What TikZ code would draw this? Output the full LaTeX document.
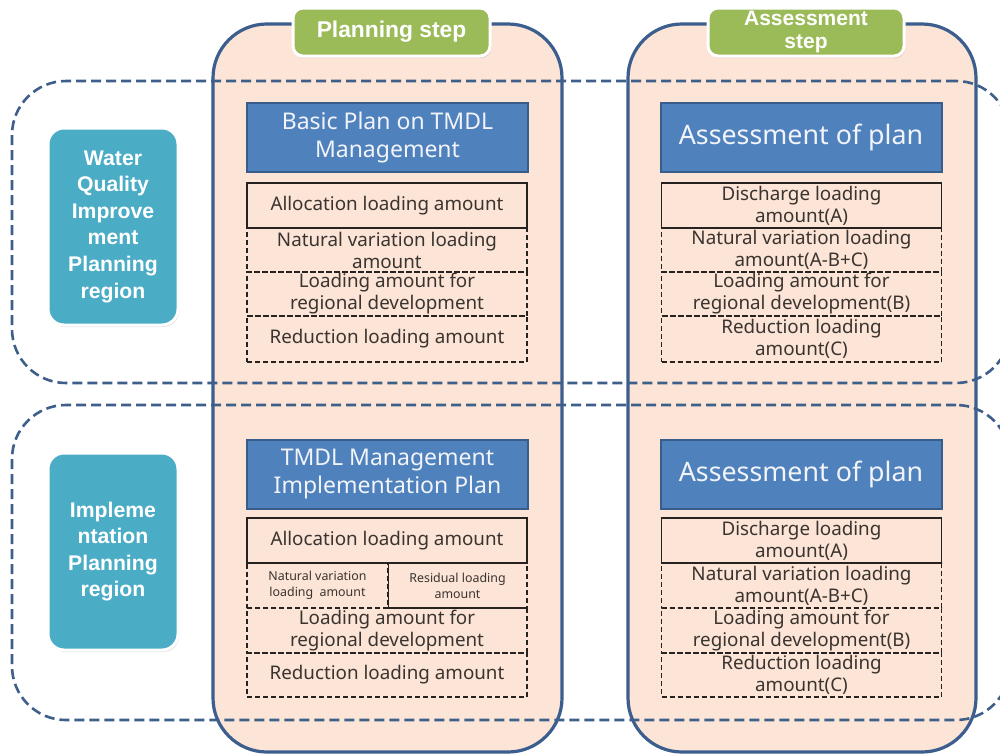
\documentclass[tikz,border=0pt]{standalone}
\usepackage{fontspec}
\setmainfont{Noto Sans}
\newfontfamily\lblfont{Liberation Sans}
\usetikzlibrary{shadows}
\definecolor{peach}{HTML}{FCE4D6}
\definecolor{colblue}{HTML}{3B5E8E}
\definecolor{dashblue}{HTML}{3E5F8A}
\definecolor{stepgreen}{HTML}{9BBB59}
\definecolor{teal}{HTML}{4BACC6}
\definecolor{hdrblue}{HTML}{4F81BD}
\definecolor{hdrborder}{HTML}{385D8A}
\definecolor{cellline}{HTML}{262220}
\definecolor{textcol}{HTML}{3A3430}
\definecolor{hdrtext}{HTML}{F2F4FA}
\begin{document}
\begin{tikzpicture}[x=0.5pt,y=-0.5pt,
  colbox/.style={draw=colblue, line width=1.6pt, fill=peach, rounded corners=27pt, inner sep=0pt},
  region/.style={draw=dashblue, line width=1.3pt, dash pattern=on 5pt off 2.5pt, rounded corners=27pt, inner sep=0pt},
  steplabel/.style={fill=stepgreen, draw=white, line width=1.5pt, rounded corners=5pt,
    drop shadow={opacity=0.25, shadow xshift=0.6pt, shadow yshift=-1pt},
    text=white, align=center, inner sep=0pt},
  regionlabel/.style={fill=teal, draw=white, line width=1.5pt, rounded corners=8pt,
    drop shadow={opacity=0.25, shadow xshift=0.6pt, shadow yshift=-1pt},
    text=white, font=\lblfont\bfseries\fontsize{10.6}{13.3}\selectfont, align=center, inner sep=0pt,
    minimum width=65pt, minimum height=98.5pt},
  header/.style={fill=hdrblue, draw=hdrborder, line width=1pt, text=hdrtext, align=center, inner sep=0pt,
    minimum width=140.5pt, minimum height=34.5pt},
  cellS/.style={draw=cellline, line width=0.6pt, inner sep=0pt, align=center, text=textcol,
    font=\fontsize{9.4}{11}\selectfont, minimum width=140pt},
  cellD/.style={cellS, dash pattern=on 2.5pt off 1.5pt},
  smallcell/.style={font=\fontsize{6.2}{8}\selectfont}
]
\clip (0,0) rectangle (1000,755);
\fill[white] (0,0) rectangle (1000,755);

% columns
\node[colbox, minimum width=174.5pt, minimum height=364pt] (planCol) at (387.5,388) {};
\node[colbox, minimum width=174pt, minimum height=364pt] (assessCol) at (802,388) {};

% dashed regions
\node[region, minimum width=499pt, minimum height=151pt] (topRegion) at (511,232) {};
\node[region, minimum width=499pt, minimum height=157.5pt] (botRegion) at (511,562.5) {};

% step labels
\node[steplabel, font=\lblfont\bfseries\fontsize{11.4}{13}\selectfont, minimum width=98.5pt, minimum height=24pt] (planStep) at (391.5,32) {Planning step};
\node[steplabel, font=\lblfont\bfseries\fontsize{10.5}{12.5}\selectfont, minimum width=98pt, minimum height=24pt] (assessStep) at (806,32) {\raisebox{-1pt}{Assessment}\\step};

% region labels
\node[regionlabel] (wqLabel) at (113,226.5) {Water\\Quality\\Improve\\ment\\Planning\\region};
\node[regionlabel] (implLabel) at (113,551.5) {Impleme\\ntation\\Planning\\region};

% ---- top planning
\node[header, font=\fontsize{11.5}{14}\selectfont] (h1) at (387.5,137.5) {Basic Plan on TMDL\\Management};
\node[cellD, minimum height=22pt] (p1b) at (387,250) {Natural variation loading\\amount};
\node[cellD, minimum height=22pt] (p1c) at (387,294) {Loading amount for\\regional development};
\node[cellD, minimum height=23pt] (p1d) at (387,339) {Reduction loading amount};
\node[cellS, minimum height=22.5pt] (p1a) at (387,205.5) {Allocation loading amount};

% ---- top assessment
\node[header, font=\fontsize{13.4}{15}\selectfont] (h2) at (801,137.5) {Assessment of plan};
\node[cellD, minimum height=22pt] (a1b) at (801.5,250) {Natural variation loading\\amount(A-B+C)};
\node[cellD, minimum height=22pt] (a1c) at (801.5,294) {Loading amount for\\regional development(B)};
\node[cellD, minimum height=23pt] (a1d) at (801.5,339) {Reduction loading\\amount(C)};
\node[cellS, minimum height=22.5pt] (a1a) at (801.5,205.5) {Discharge loading\\amount(A)};

% ---- bottom planning
\node[header, font=\fontsize{11.5}{14}\selectfont] (h3) at (387.5,474) {TMDL Management\\Implementation Plan};
\node[cellD, minimum height=22.5pt] (p2c) at (387,630.5) {Loading amount for\\regional development};
\node[cellD, minimum height=22pt] (p2d) at (387,675) {Reduction loading amount};
\node[cellD, smallcell, minimum width=70.5pt, minimum height=22.5pt] (p2bl) at (317.5,585.5) {Natural variation\\loading\ \ amount};
\node[cellD, smallcell, minimum width=69.5pt, minimum height=22.5pt] (p2br) at (457.5,585.5) {Residual loading\\amount};
\draw[draw=cellline, line width=0.6pt] (p2bl.north east) -- (p2bl.south east);
\node[cellS, minimum height=22.5pt] (p2a) at (387,540.5) {Allocation loading amount};

% ---- bottom assessment
\node[header, font=\fontsize{13.4}{15}\selectfont] (h4) at (801,474) {Assessment of plan};
\node[cellD, minimum height=22.5pt] (a2b) at (801.5,585.5) {Natural variation loading\\amount(A-B+C)};
\node[cellD, minimum height=22.5pt] (a2c) at (801.5,630.5) {Loading amount for\\regional development(B)};
\node[cellD, minimum height=22pt] (a2d) at (801.5,675) {Reduction loading\\amount(C)};
\node[cellS, minimum height=22.5pt] (a2a) at (801.5,540.5) {Discharge loading\\amount(A)};
\end{tikzpicture}
\end{document}
